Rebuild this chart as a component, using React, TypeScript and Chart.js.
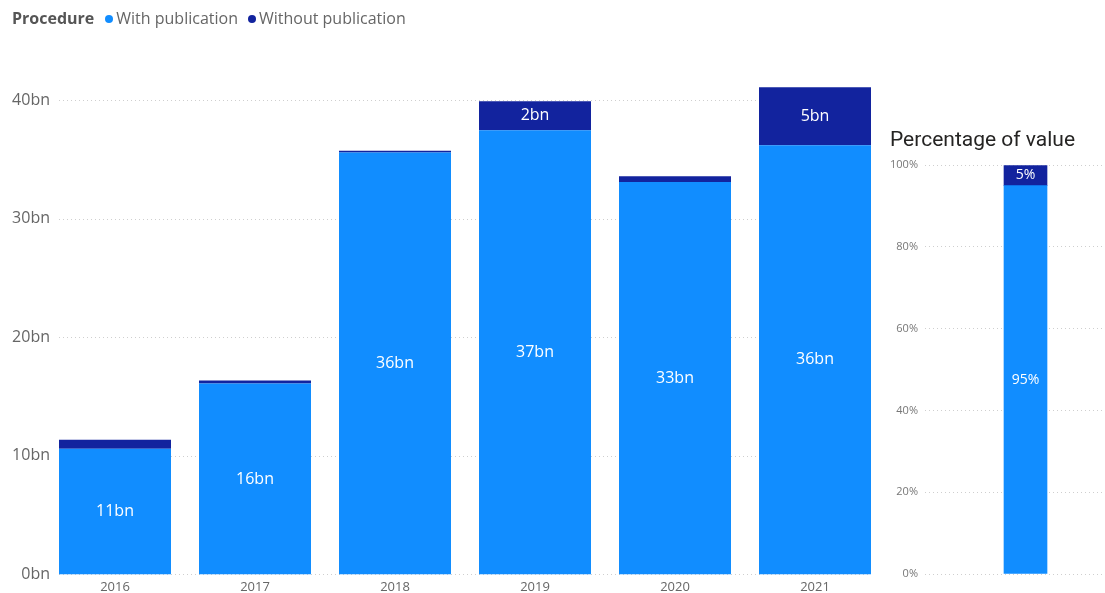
import React, { useEffect, useRef } from "react";
import { Chart, registerables } from "chart.js";

Chart.register(...registerables);

const years = ["2016", "2017", "2018", "2019", "2020", "2021"];
const withPublication = [10.6, 16.1, 35.6, 37.46, 33.1, 36.2];
const withoutPublication = [0.75, 0.25, 0.15, 2.45, 0.5, 4.9];
const yTicks = [0, 10, 20, 30, 40];
const shareLabels = [""];
const shareWith = [95];
const shareWithout = [5];

const LIGHT = "#118DFF";
const DARK = "#12239E";
const FONT = "'Segoe UI', 'Open Sans', sans-serif";
const TITLE_FONT = "Roboto, 'Open Sans', sans-serif";
const GRID = "#CFCFCF";

const mainDecor = {
  id: "mainDecor",
  beforeDatasetsDraw(chart: any) {
    const ctx = chart.ctx;
    const y = chart.scales.y;
    const meta = chart.getDatasetMeta(0);
    const first = meta.data[0];
    const last = meta.data[meta.data.length - 1];
    const x0 = first.x - first.width / 2;
    const x1 = last.x + last.width / 2;
    ctx.save();
    ctx.strokeStyle = GRID;
    ctx.lineWidth = 1;
    ctx.setLineDash([1, 3]);
    yTicks.forEach((v) => {
      const py = Math.round(y.getPixelForValue(v)) + 0.5;
      ctx.beginPath();
      ctx.moveTo(x0, py);
      ctx.lineTo(x1, py);
      ctx.stroke();
    });
    ctx.setLineDash([]);
    ctx.fillStyle = "#666666";
    ctx.font = `16px ${FONT}`;
    ctx.textAlign = "right";
    ctx.textBaseline = "middle";
    yTicks.forEach((v) => {
      ctx.fillText(v + "bn", 50, y.getPixelForValue(v));
    });
    ctx.restore();
  },
  afterDatasetsDraw(chart: any) {
    const ctx = chart.ctx;
    ctx.save();
    ctx.fillStyle = "#FFFFFF";
    ctx.font = `16px ${FONT}`;
    ctx.textAlign = "center";
    ctx.textBaseline = "middle";
    chart.data.datasets.forEach((ds: any, di: number) => {
      const meta = chart.getDatasetMeta(di);
      meta.data.forEach((bar: any, i: number) => {
        const h = Math.abs(bar.base - bar.y);
        if (h < 20) return;
        const v = ds.data[i] as number;
        ctx.fillText(Math.round(v) + "bn", bar.x, (bar.y + bar.base) / 2);
      });
    });
    ctx.restore();
  },
};

const sideLabels = {
  id: "sideLabels",
  afterDatasetsDraw(chart: any) {
    const ctx = chart.ctx;
    ctx.save();
    ctx.fillStyle = "#FFFFFF";
    ctx.font = `14px ${FONT}`;
    ctx.textAlign = "center";
    ctx.textBaseline = "middle";
    chart.data.datasets.forEach((ds: any, di: number) => {
      const meta = chart.getDatasetMeta(di);
      meta.data.forEach((bar: any, i: number) => {
        const v = ds.data[i] as number;
        ctx.fillText(Math.round(v) + "%", bar.x, (bar.y + bar.base) / 2);
      });
    });
    ctx.restore();
  },
};

export default function App() {
  const mainRef = useRef<HTMLCanvasElement>(null);
  const sideRef = useRef<HTMLCanvasElement>(null);

  useEffect(() => {
    const main = new Chart(mainRef.current!, {
      type: "bar",
      data: {
        labels: years,
        datasets: [
          {
            label: "With publication",
            data: withPublication,
            backgroundColor: LIGHT,
            barPercentage: 0.8,
            categoryPercentage: 1,
          },
          {
            label: "Without publication",
            data: withoutPublication,
            backgroundColor: DARK,
            barPercentage: 0.8,
            categoryPercentage: 1,
          },
        ],
      },
      options: {
        responsive: false,
        animation: false,
        devicePixelRatio: 1,
        layout: { padding: { left: 45, right: 0, top: 41, bottom: 0 } },
        plugins: {
          legend: { display: false },
          tooltip: { enabled: false },
          title: { display: false },
        },
        scales: {
          x: {
            stacked: true,
            grid: { display: false, drawTicks: false },
            border: { display: false },
            ticks: {
              color: "#666666",
              font: { size: 13, family: FONT },
              padding: 5,
              maxRotation: 0,
            },
          },
          y: { stacked: true, display: false, min: 0, max: 45 },
        },
      },
      plugins: [mainDecor],
    } as any);

    const side = new Chart(sideRef.current!, {
      type: "bar",
      data: {
        labels: shareLabels,
        datasets: [
          { label: "With publication", data: shareWith, backgroundColor: LIGHT, barThickness: 43 },
          { label: "Without publication", data: shareWithout, backgroundColor: DARK, barThickness: 43 },
        ],
      },
      options: {
        responsive: false,
        animation: false,
        devicePixelRatio: 1,
        layout: { padding: { left: 10, right: 0, top: 0, bottom: 19 } },
        plugins: {
          legend: { display: false },
          tooltip: { enabled: false },
          title: {
            display: true,
            text: "Percentage of value",
            align: "start",
            color: "#252423",
            font: { size: 21, family: TITLE_FONT, weight: "normal" },
            padding: { top: 8, bottom: 12 },
          },
        },
        scales: {
          x: { stacked: true, display: false },
          y: {
            stacked: true,
            min: 0,
            max: 100,
            ticks: {
              stepSize: 20,
              callback: (v: any) => v + "%",
              color: "#777777",
              font: { size: 11, family: FONT },
              padding: 7,
            },
            grid: { color: GRID, drawTicks: false, lineWidth: 1, borderDash: [1, 3] },
            border: { display: false, dash: [1, 3] },
            afterFit: (s: any) => {
              s.width = 35;
            },
          },
        },
      },
      plugins: [sideLabels],
    } as any);

    return () => {
      main.destroy();
      side.destroy();
    };
  }, []);

  const dot = (c: string) => (
    <span
      style={{
        display: "inline-block",
        width: 8,
        height: 8,
        borderRadius: 4,
        background: c,
        margin: "0 3px 0 0",
        verticalAlign: "middle",
        position: "relative",
        top: -1,
      }}
    />
  );

  return (
    <div
      style={{
        position: "fixed",
        left: 0,
        top: 0,
        width: 1105,
        height: 593,
        overflow: "hidden",
        background: "#FFFFFF",
      }}
    >
      <canvas
        ref={mainRef}
        width={885}
        height={600}
        style={{ position: "absolute", left: 0, top: 0, width: 885, height: 600 }}
      />
      <canvas
        ref={sideRef}
        width={246}
        height={473}
        style={{ position: "absolute", left: 880, top: 120, width: 246, height: 473 }}
      />
      <div
        style={{
          position: "absolute",
          left: 12,
          top: 8,
          fontFamily: FONT,
          fontSize: 16,
          lineHeight: "20px",
          color: "#666666",
          whiteSpace: "nowrap",
        }}
      >
        <span style={{ fontWeight: 700, color: "#555555", marginRight: 11 }}>Procedure</span>
        {dot(LIGHT)}
        <span style={{ marginRight: 10 }}>With publication</span>
        {dot(DARK)}
        <span>Without publication</span>
      </div>
    </div>
  );
}
